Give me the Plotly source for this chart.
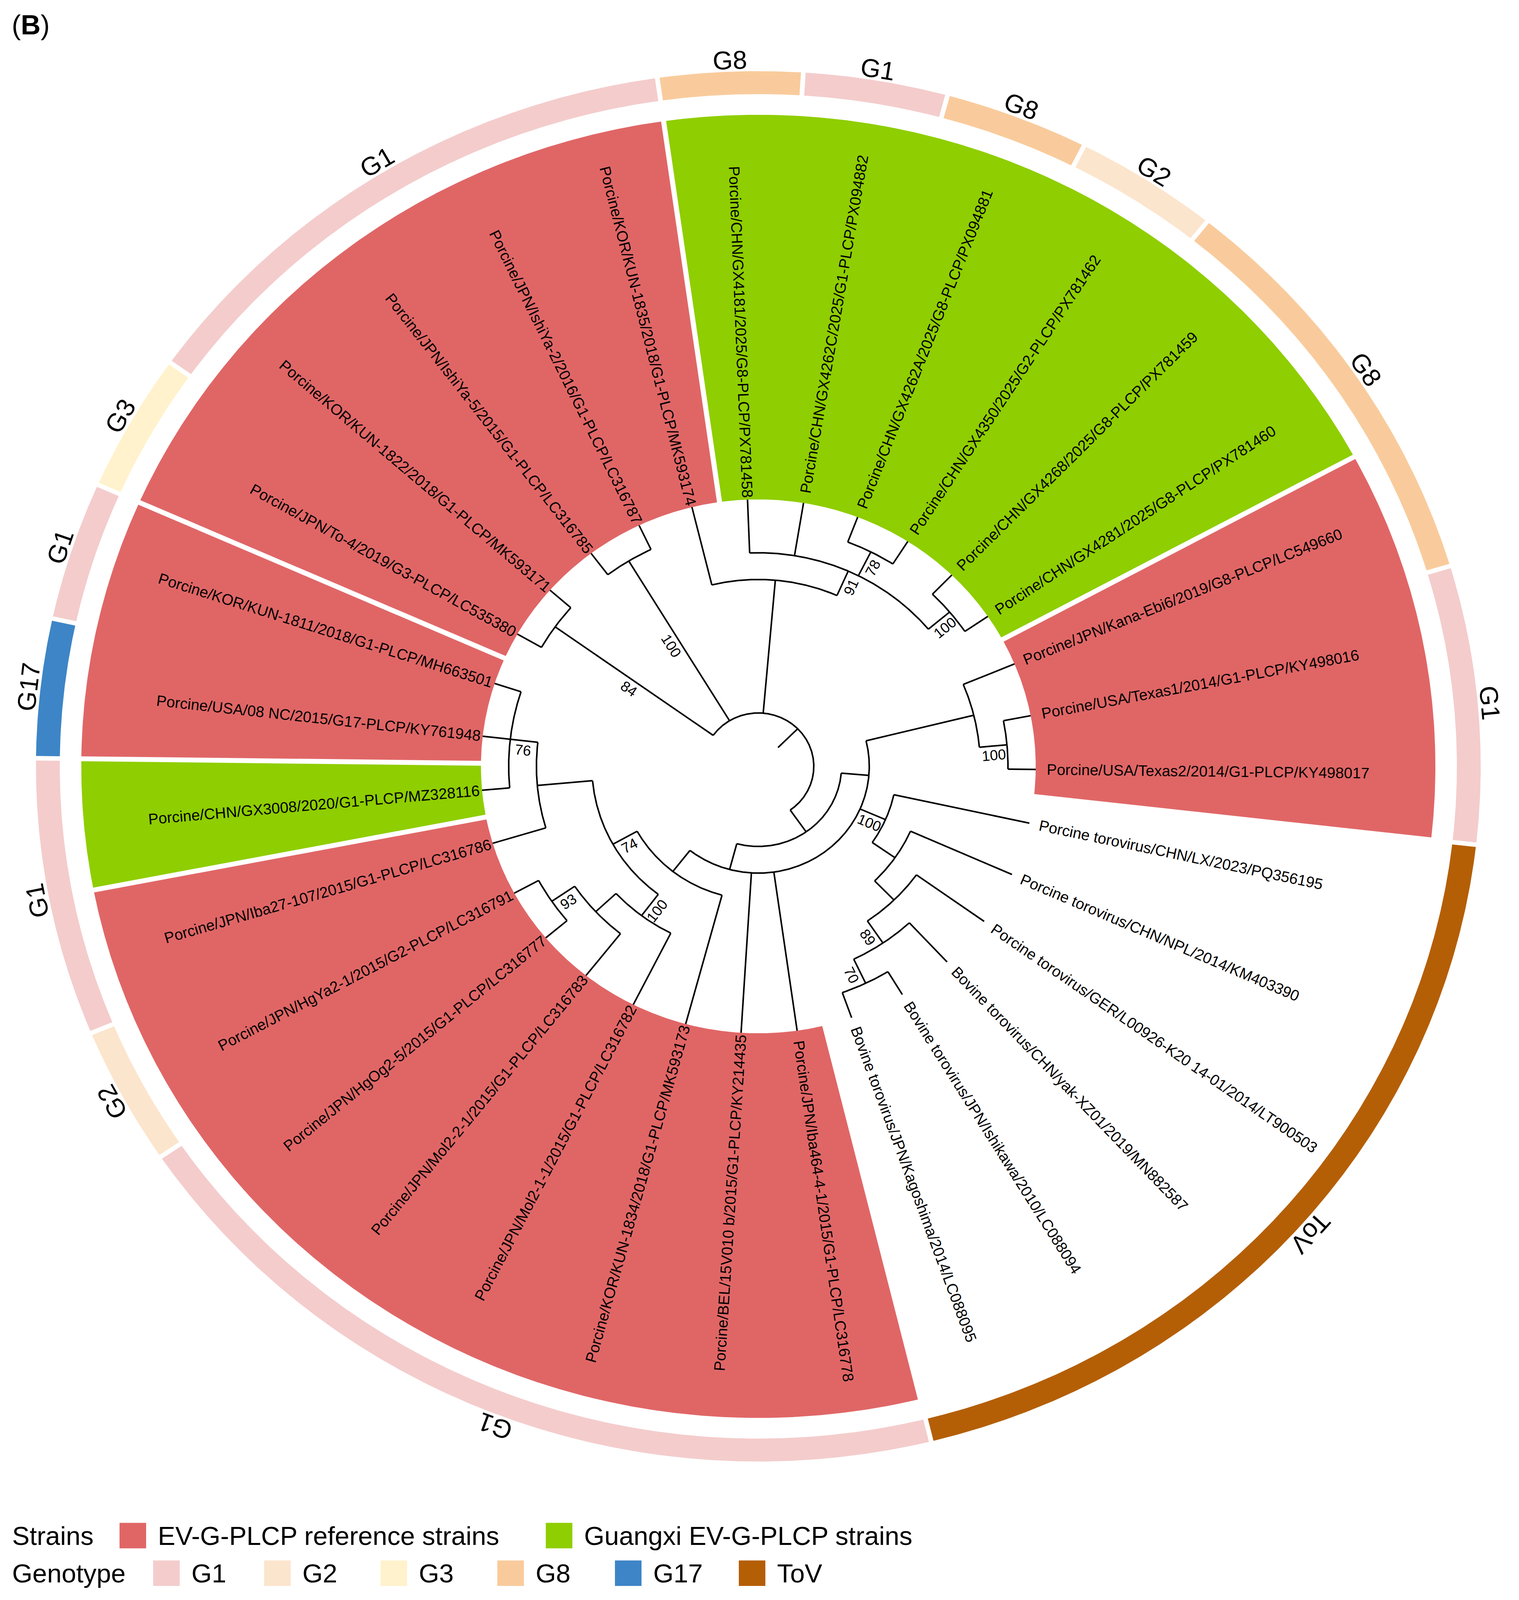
import math
import plotly.graph_objects as go

# ---------------- data ----------------
# leaves in clockwise order, starting at the To-4 tip
leaf_labels = [
    "Porcine/JPN/To-4/2019/G3-PLCP/LC535380",
    "Porcine/KOR/KUN-1822/2018/G1-PLCP/MK593171",
    "Porcine/JPN/IshiYa-5/2015/G1-PLCP/LC316785",
    "Porcine/JPN/IshiYa-2/2016/G1-PLCP/LC316787",
    "Porcine/KOR/KUN-1835/2018/G1-PLCP/MK593174",
    "Porcine/CHN/GX4181/2025/G8-PLCP/PX781458",
    "Porcine/CHN/GX4262C/2025/G1-PLCP/PX094882",
    "Porcine/CHN/GX4262A/2025/G8-PLCP/PX094881",
    "Porcine/CHN/GX4350/2025/G2-PLCP/PX781462",
    "Porcine/CHN/GX4268/2025/G8-PLCP/PX781459",
    "Porcine/CHN/GX4281/2025/G8-PLCP/PX781460",
    "Porcine/JPN/Kana-Ebi6/2019/G8-PLCP/LC549660",
    "Porcine/USA/Texas1/2014/G1-PLCP/KY498016",
    "Porcine/USA/Texas2/2014/G1-PLCP/KY498017",
    "Porcine torovirus/CHN/LX/2023/PQ356195",
    "Porcine torovirus/CHN/NPL/2014/KM403390",
    "Porcine torovirus/GER/L00926-K20 14-01/2014/LT900503",
    "Bovine torovirus/CHN/yak-XZ01/2019/MN882587",
    "Bovine torovirus/JPN/Ishikawa/2010/LC088094",
    "Bovine torovirus/JPN/Kagoshima/2014/LC088095",
    "Porcine/JPN/Iba464-4-1/2015/G1-PLCP/LC316778",
    "Porcine/BEL/15V010 b/2015/G1-PLCP/KY214435",
    "Porcine/KOR/KUN-1834/2018/G1-PLCP/MK593173",
    "Porcine/JPN/Mol2-1-1/2015/G1-PLCP/LC316782",
    "Porcine/JPN/Mol2-2-1/2015/G1-PLCP/LC316783",
    "Porcine/JPN/HgOg2-5/2015/G1-PLCP/LC316777",
    "Porcine/JPN/HgYa2-1/2015/G2-PLCP/LC316791",
    "Porcine/JPN/Iba27-107/2015/G1-PLCP/LC316786",
    "Porcine/CHN/GX3008/2020/G1-PLCP/MZ328116",
    "Porcine/USA/08 NC/2015/G17-PLCP/KY761948",
    "Porcine/KOR/KUN-1811/2018/G1-PLCP/MH663501",
]
leaf_genotype = [
    "G3", "G1", "G1", "G1", "G1", "G8", "G1", "G8", "G2", "G8", "G8",
    "G8", "G1", "G1", "ToV", "ToV", "ToV", "ToV", "ToV", "ToV",
    "G1", "G1", "G1", "G1", "G1", "G1", "G2", "G1", "G1", "G17", "G1",
]
# tree topology with bootstrap support, leaves given by their index above
tree_newick = ("((0,1)84,(2,3)100,(4,(5,6,(7,8)78,(9,10)100)91),"
               "(((11,(12,13)100),(14,(15,(16,(17,(18,19)70)89)))100),"
               "(20,21,(22,((23,(24,(25,26)93))100,(27,(28,29,30)76))74))));")
# coloured label ranges (first leaf, last leaf, strain group)
range_first = [0, 5, 11, 20, 28, 29]
range_last = [4, 10, 13, 27, 28, 30]
range_group = ["ref", "gx", "ref", "ref", "gx", "ref"]

strain_groups = ["ref", "gx"]
strain_names = ["EV-G-PLCP reference strains", "Guangxi EV-G-PLCP strains"]
genotype_names = ["G1", "G2", "G3", "G8", "G17", "ToV"]

strain_colors = {"ref": "#E06666", "gx": "#8FCE00"}
genotype_colors = {"G1": "#F4CCCC", "G2": "#FCE5CD", "G3": "#FFF2CC",
                   "G8": "#F9CB9C", "G17": "#3D85C6", "ToV": "#B45F06"}

# ---------------- geometry (reference pixels) ----------------
PAD = 8
REF_W, REF_H = 3888, 4255
CX, CY = 1941, 2038
KX, KY = 1.0, 0.963          # screen px per unit (window is a bit shorter than the reference)
START_A = 150.3
STEP_A = 360.0 / len(leaf_labels)
STEP_R = 71.0
R_TIP = 10 * STEP_R
R_WEDGE = (R_TIP, 1733)
R_RING = (1788, 1849)
R_RING_TXT = 1880
GAP_OUT, GAP_IN = 26, 5      # label gap for outward / inward reading labels
LEAF_SIZE, BOOT_SIZE, RING_SIZE, LEG_SIZE = 39, 37, 66, 67
FONT = "Liberation Sans"

AW = dict(zip("ABCDEFGHIJKLMNOPQRSTUVWXYZ",
              [667, 667, 722, 722, 667, 611, 778, 722, 278, 500, 667, 556, 833,
               722, 778, 667, 778, 722, 667, 611, 722, 667, 944, 667, 667, 611]))
AW.update(zip("abcdefghijklmnopqrstuvwxyz",
              [556, 556, 500, 556, 556, 278, 556, 556, 222, 222, 500, 222, 833,
               556, 556, 556, 556, 333, 500, 278, 556, 500, 722, 500, 500, 500]))
AW.update({c: 556 for c in "0123456789"})
AW.update({" ": 278, "/": 278, "-": 333, ".": 278})


def text_w(s, size):
    return sum(AW.get(c, 556) for c in s) * size / 1000.0


def pt(r, a):
    t = math.radians(a)
    return r * math.cos(t), r * math.sin(t)


def norm(a):
    return (a + 180.0) % 360.0 - 180.0


def scr(a):
    # direction angle on screen of a data direction a
    t = math.radians(a)
    return math.degrees(math.atan2(KY * math.sin(t), KX * math.cos(t)))


def outward(phi):
    return -90 <= norm(phi) <= 90


def px(x):
    return x - CX


def py(y):
    return CY - y


def parse(s):
    pos = 0

    def read():
        nonlocal pos
        if s[pos] == "(":
            pos += 1
            kids = [read()]
            while s[pos] == ",":
                pos += 1
                kids.append(read())
            pos += 1
            tag = ""
            while s[pos] not in ",);":
                tag += s[pos]
                pos += 1
            return {"kids": kids, "boot": tag}
        tag = ""
        while s[pos] not in ",);":
            tag += s[pos]
            pos += 1
        return {"leaf": int(tag)}
    return read()


def place(n):
    if "leaf" in n:
        n["h"] = 0
        n["ang"] = START_A - n["leaf"] * STEP_A
    else:
        for k in n["kids"]:
            place(k)
        n["h"] = 1 + max(k["h"] for k in n["kids"])
        n["ang"] = (n["kids"][0]["ang"] + n["kids"][-1]["ang"]) / 2


root = parse(tree_newick)
place(root)
LEVELS = root["h"] + 2


def rad(n):
    return STEP_R * (LEVELS - n["h"])


lx, ly = [], []
annotations = []


def add_line(r0, r1, a):
    for r in (r0, r1):
        x, y = pt(r, a)
        lx.append(x)
        ly.append(y)
    lx.append(None)
    ly.append(None)


def add_arc(r, a0, a1):
    n = max(2, int(abs(a1 - a0) * 3))
    for i in range(n + 1):
        x, y = pt(r, a0 + (a1 - a0) * i / n)
        lx.append(x)
        ly.append(y)
    lx.append(None)
    ly.append(None)


def radial_text(text, x, y, phi, size):
    an = norm(phi)
    ta = -an if outward(an) else norm(180 - an)
    annotations.append(dict(x=x, y=y, xref="x", yref="y", text=text, showarrow=False,
                            textangle=ta, xanchor="center", yanchor="middle",
                            font=dict(family=FONT, size=size, color="black")))


def draw(n):
    if "leaf" in n:
        return
    r = rad(n)
    add_arc(r, n["kids"][0]["ang"], n["kids"][-1]["ang"])
    for k in n["kids"]:
        a = k["ang"]
        add_line(r, rad(k), a)
        draw(k)
        if k.get("boot"):
            x, y = pt((r + rad(k)) / 2, a)
            phi = scr(a)
            t = math.radians(phi)
            s = 1 if outward(phi) else -1
            d = 24
            radial_text(k["boot"], x + s * d * math.sin(t) / KX,
                        y - s * d * math.cos(t) / KY, phi, BOOT_SIZE)


draw(root)
add_line(STEP_R, 2 * STEP_R, root["ang"])
# the two basal clades of the last root child share one arc in the source figure
basal = root["kids"][-1]["kids"]
add_arc(rad(basal[0]), basal[0]["kids"][-1]["ang"], basal[1]["kids"][0]["ang"])


def sector(i0, i1, r0, r1, gap):
    a_hi = START_A - i0 * STEP_A + STEP_A / 2
    a_lo = START_A - i1 * STEP_A - STEP_A / 2
    xs, ys = [], []
    for r, rev in ((r1, False), (r0, True)):
        d = math.degrees(math.asin(gap / 2 / r))
        lo, hi = a_lo + d, a_hi - d
        n = max(2, int((hi - lo) * 3))
        seq = range(n + 1)
        if rev:
            seq = reversed(seq)
        for i in seq:
            x, y = pt(r, lo + (hi - lo) * i / n)
            xs.append(x)
            ys.append(y)
    xs.append(xs[0])
    ys.append(ys[0])
    return xs, ys


fig = go.Figure()

for i0, i1, g in zip(range_first, range_last, range_group):
    xs, ys = sector(i0, i1, R_WEDGE[0], R_WEDGE[1], 13)
    fig.add_trace(go.Scatter(x=xs, y=ys, mode="lines", fill="toself",
                             fillcolor=strain_colors[g], line=dict(width=0),
                             hoverinfo="skip", showlegend=False))

# genotype ring: runs of consecutive leaves with the same genotype
runs = []
for i, g in enumerate(leaf_genotype):
    if runs and runs[-1][2] == g:
        runs[-1][1] = i
    else:
        runs.append([i, i, g])
for i0, i1, g in runs:
    xs, ys = sector(i0, i1, R_RING[0], R_RING[1], 12)
    fig.add_trace(go.Scatter(x=xs, y=ys, mode="lines", fill="toself",
                             fillcolor=genotype_colors[g], line=dict(width=0),
                             hoverinfo="skip", showlegend=False))
    mid = START_A - (i0 + i1) / 2 * STEP_A
    x, y = pt(R_RING_TXT, mid)
    t = math.radians(mid)
    psi = math.degrees(math.atan2(-KY * math.cos(t), KX * math.sin(t)))
    annotations.append(dict(x=x, y=y, xref="x", yref="y", text=g, showarrow=False,
                            textangle=norm(-psi), xanchor="center", yanchor="middle",
                            font=dict(family=FONT, size=RING_SIZE, color="black")))

fig.add_trace(go.Scatter(x=lx, y=ly, mode="lines", line=dict(color="black", width=4),
                         hoverinfo="skip", showlegend=False))

# leaf labels, starting just beyond each tip
for i, lab in enumerate(leaf_labels):
    a = START_A - i * STEP_A
    phi = scr(a)
    t = math.radians(phi)
    gap = GAP_OUT if outward(phi) else GAP_IN
    dist = gap + text_w(lab, LEAF_SIZE) / 2
    x, y = pt(R_TIP, a)
    radial_text(lab, x + dist * math.cos(t) / KX, y + dist * math.sin(t) / KY, phi, LEAF_SIZE)

# panel tag
annotations.append(dict(x=px(28), y=py(66), xref="x", yref="y", text="(<b>B</b>)",
                        showarrow=False, xanchor="left", yanchor="middle",
                        font=dict(family=FONT, size=70, color="black")))

# legend
shapes = []
SW = 68


def legend_row(title, y, items):
    annotations.append(dict(x=px(29), y=py(y), xref="x", yref="y", text=title,
                            showarrow=False, xanchor="left", yanchor="middle",
                            font=dict(family=FONT, size=LEG_SIZE, color="black")))
    for x0, name, col in items:
        shapes.append(dict(type="rect", xref="x", yref="y", x0=px(x0), x1=px(x0 + SW),
                           y0=py(y - SW / 2), y1=py(y + SW / 2), fillcolor=col,
                           line=dict(width=0)))
        annotations.append(dict(x=px(x0 + SW + 28), y=py(y), xref="x", yref="y", text=name,
                                showarrow=False, xanchor="left", yanchor="middle",
                                font=dict(family=FONT, size=LEG_SIZE, color="black")))


legend_row("Strains", 4084, list(zip([306, 1397], strain_names,
                                     [strain_colors[g] for g in strain_groups])))
legend_row("Genotype", 4184, list(zip([392, 676, 974, 1273, 1574, 1891], genotype_names,
                                      [genotype_colors[g] for g in genotype_names])))

# the figure fills the browser window; axes span the reference canvas
fig.update_layout(
    autosize=True,
    margin=dict(l=0, r=0, t=0, b=0, pad=0),
    paper_bgcolor="white", plot_bgcolor="white",
    xaxis=dict(range=[px(PAD), px(REF_W - PAD)], visible=False, fixedrange=True),
    yaxis=dict(range=[py(REF_H - PAD), py(PAD)], visible=False, fixedrange=True),
    annotations=annotations, shapes=shapes, showlegend=False,
)

fig.write_html("out.html")
